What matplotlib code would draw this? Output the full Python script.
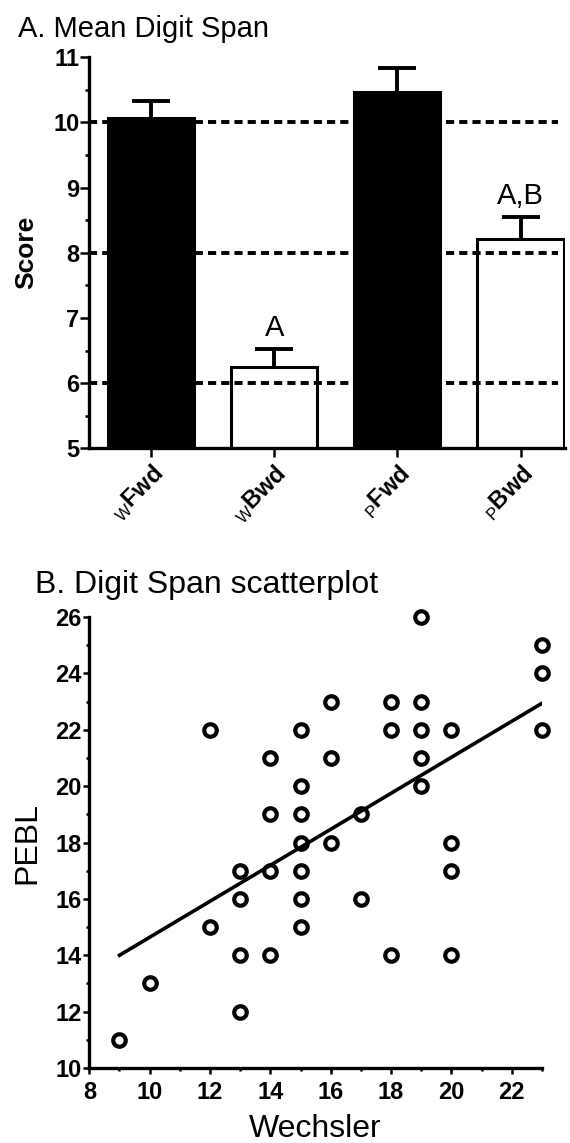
import numpy as np
import matplotlib
matplotlib.use('Agg')
from matplotlib import pyplot as plt
from matplotlib.ticker import MultipleLocator

plt.rcParams['font.family'] = ['Liberation Sans', 'DejaVu Sans']
plt.rcParams['mathtext.fontset'] = 'custom'
plt.rcParams['mathtext.rm'] = 'Liberation Sans'
plt.rcParams['mathtext.bf'] = 'Liberation Sans:bold'

# panel A: mean digit span
span_labels = [r'$_{\mathrm{W}}\mathbf{Fwd}$', r'$_{\mathrm{W}}\mathbf{Bwd}$',
               r'$_{\mathrm{P}}\mathbf{Fwd}$', r'$_{\mathrm{P}}\mathbf{Bwd}$']
span_means = [10.07, 6.24, 10.46, 8.21]
span_err = [0.26, 0.28, 0.38, 0.34]
span_fill = ['black', 'none', 'black', 'none']
span_marks = ['', 'A', '', 'A,B']
ref_lines = [6, 8, 10]

# panel B: scatterplot
wechsler = [9, 10, 12, 12, 13, 13, 13, 13, 14, 14, 14, 14,
            15, 15, 15, 15, 15, 15, 15, 16, 16, 16, 17, 17,
            18, 18, 18, 19, 19, 19, 19, 19, 20, 20, 20, 20, 23, 23, 23]
pebl = [11, 13, 22, 15, 17, 16, 14, 12, 21, 19, 17, 14,
        22, 20, 19, 18, 17, 16, 15, 23, 21, 18, 19, 16,
        23, 22, 14, 26, 23, 22, 21, 20, 22, 18, 17, 14, 25, 24, 22]
fit_x = [9, 23]
fit_y = [14.0, 22.94]

fig = plt.figure(figsize=(5.7, 11.43), dpi=100)

def style_axes(ax, lw=2.4):
    for s in ['top', 'right']:
        ax.spines[s].set_visible(False)
    for s in ['left', 'bottom']:
        ax.spines[s].set_linewidth(lw)

# ---- A ----
ax1 = fig.add_axes([0.157, 0.6078, 0.834, 0.3421])
style_axes(ax1)
x = np.arange(len(span_means))
for y in ref_lines:
    ax1.axhline(y, xmin=0.0, xmax=0.985, color='black', lw=2.8,
                ls=(0, (2.1, 1.3)), zorder=1)
ax1.bar(x, span_means, width=0.7, color=span_fill, edgecolor='black',
        linewidth=2.2, zorder=3)
eb = ax1.errorbar(x, span_means, yerr=[np.zeros(len(x)), span_err], fmt='none',
                  ecolor='black', elinewidth=2.8, capsize=14, capthick=2.8, zorder=4)
eb[1][0].set_visible(False)
for xi, m, e, t in zip(x, span_means, span_err, span_marks):
    if t:
        ax1.annotate(t, (xi, m + e), xytext=(0, 5), textcoords='offset points',
                     ha='center', va='bottom', fontsize=21)
ax1.set_xlim(-0.5, 3.36)
ax1.set_ylim(5, 11)
ax1.yaxis.set_major_locator(MultipleLocator(1))
ax1.yaxis.set_minor_locator(MultipleLocator(0.5))
ax1.set_xticks(x, span_labels, rotation=45, ha='right', rotation_mode='anchor',
               fontsize=17)
ax1.tick_params(axis='y', which='major', length=6.2, width=1.8, pad=1, labelsize=17)
ax1.tick_params(axis='y', which='minor', length=3, width=1.8)
ax1.tick_params(axis='x', which='major', length=6.5, width=1.8, pad=3)
for lbl in ax1.get_yticklabels():
    lbl.set_fontweight('bold')
ax1.set_ylabel('Score', fontsize=19, fontweight='bold')
ax1.yaxis.set_label_coords(-0.108, 0.5)
fig.text(0.0316, 1 - 36.7 / 1143, 'A. Mean Digit Span', fontsize=21, va='baseline')

# ---- B ----
ax2 = fig.add_axes([0.1567, 0.0656, 0.7942, 0.3946])
style_axes(ax2)
ax2.plot(fit_x, fit_y, color='black', lw=2.6, zorder=3)
ax2.plot(wechsler, pebl, 'o', ms=9, mfc='none', mec='black', mew=3,
         clip_on=False, zorder=4)
ax2.set_xlim(8, 23)
ax2.set_ylim(10, 26)
ax2.set_xticks(np.arange(8, 23, 2))
ax2.set_yticks(np.arange(10, 27, 2))
ax2.xaxis.set_minor_locator(MultipleLocator(1))
ax2.yaxis.set_minor_locator(MultipleLocator(1))
ax2.tick_params(which='major', length=4.2, width=1.8, labelsize=17)
ax2.tick_params(which='minor', length=2.2, width=1.8)
ax2.tick_params(axis='y', pad=1.5)
ax2.tick_params(axis='x', pad=5)
for lbl in ax2.get_xticklabels() + ax2.get_yticklabels():
    lbl.set_fontweight('bold')
ax2.set_ylabel('PEBL', fontsize=23)
ax2.yaxis.set_label_coords(-0.1045, 0.5)
ax2.set_xlabel('Wechsler', fontsize=23, va='top')
ax2.xaxis.set_label_coords(0.5, -0.102)
fig.text(35 / 570, 1 - 593 / 1143, 'B. Digit Span scatterplot', fontsize=23, va='baseline')

fig.savefig('out.png', dpi=100)
